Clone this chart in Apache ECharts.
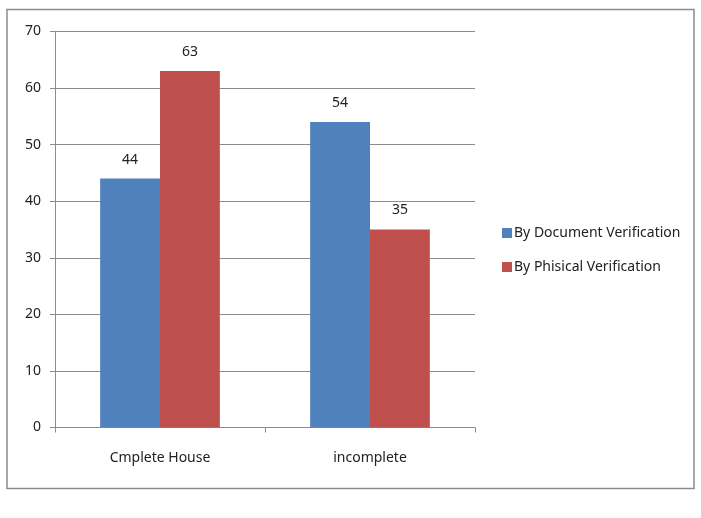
<!DOCTYPE html>
<html><head><meta charset="utf-8">
<script src="https://cdn.jsdelivr.net/npm/echarts@6/dist/echarts.min.js"></script>
<style>html,body{margin:0;padding:0;background:#fff}#c{width:701px;height:518px}</style>
</head><body><div id="c"></div>
<script>
const categories = ['Cmplete House', 'incomplete'];
const docVerification = [44, 54];
const physVerification = [63, 35];
const seriesNames = ['By Document Verification', 'By Phisical Verification'];

const FONT = "'Noto Sans', sans-serif";
const chart = echarts.init(document.getElementById('c'), null, {renderer: 'canvas'});
chart.setOption({
  animation: false,
  backgroundColor: '#fff',
  textStyle: {fontFamily: FONT},
  graphic: [{
    type: 'rect', shape: {x: 7, y: 9.5, width: 687, height: 479},
    style: {fill: 'none', stroke: '#8c8c8c', lineWidth: 1.5}, silent: true
  }],
  grid: {left: 55, right: 226, top: 31.5, bottom: 90.5, containLabel: false},
  legend: {
    orient: 'vertical', left: 497, top: 221, itemWidth: 10, itemHeight: 10, itemGap: 20,
    icon: 'rect',
    textStyle: {fontFamily: FONT, fontSize: 14, color: '#222', padding: [0,0,0,-3]},
    data: seriesNames
  },
  xAxis: {
    type: 'category', data: categories,
    axisLine: {lineStyle: {color: '#8c8c8c'}},
    axisTick: {show: true, length: 5, alignWithLabel: false, lineStyle: {color: '#8c8c8c'}},
    axisLabel: {fontFamily: FONT, fontSize: 14, color: '#222', margin: 24}
  },
  yAxis: {
    type: 'value', min: 0, max: 70, interval: 10,
    axisLine: {show: true, lineStyle: {color: '#8c8c8c'}},
    axisTick: {show: true, length: 5, lineStyle: {color: '#8c8c8c'}},
    splitLine: {lineStyle: {color: '#8c8c8c'}},
    axisLabel: {fontFamily: FONT, fontSize: 14, color: '#222', margin: 14}
  },
  series: [
    {name: seriesNames[0], type: 'bar', data: docVerification, barGap: '0%', barCategoryGap: '43%',
     itemStyle: {color: '#4F81BD'},
     label: {show: true, position: 'top', distance: 12, fontFamily: FONT, fontSize: 14, color: '#222'}},
    {name: seriesNames[1], type: 'bar', data: physVerification, barGap: '0%', barCategoryGap: '43%',
     itemStyle: {color: '#C0504D'},
     label: {show: true, position: 'top', distance: 12, fontFamily: FONT, fontSize: 14, color: '#222'}}
  ]
});
</script></body></html>
